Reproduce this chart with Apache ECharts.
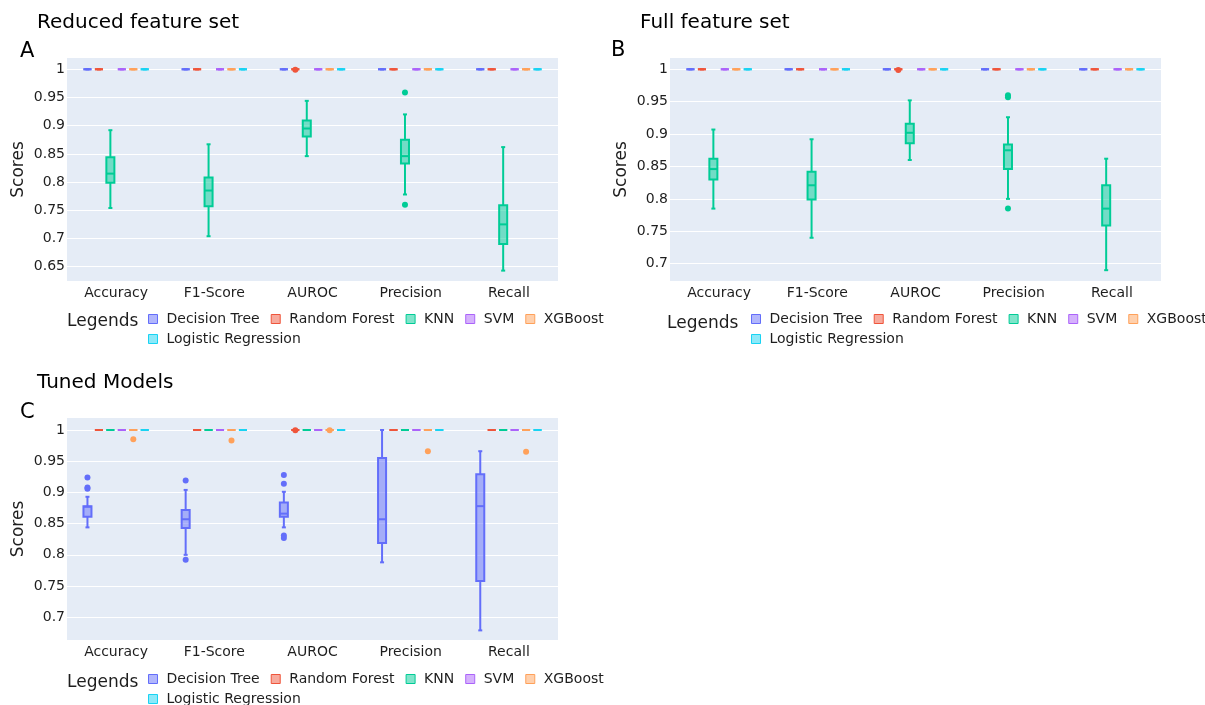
<!DOCTYPE html>
<html>
<head>
<meta charset="utf-8">
<script src="https://cdn.jsdelivr.net/npm/echarts@6/dist/echarts.min.js"></script>
<style>
  html, body { margin: 0; padding: 0; background: #fff; }
  #chart { width: 1205px; height: 705px; }
</style>
</head>
<body>
<div id="chart"></div>
<script>
// ---- Data -------------------------------------------------------------
const metrics = ['Accuracy', 'F1-Score', 'AUROC', 'Precision', 'Recall'];
const models = ['Decision Tree', 'Random Forest', 'KNN', 'SVM', 'XGBoost', 'Logistic Regression'];
const modelColors = ['#636efa', '#EF553B', '#00cc96', '#ab63fa', '#FFA15A', '#19d3f3'];

// Box summaries per metric: [min, q1, median, q3, max]
const perfectScores = [
  [1, 1, 1, 1, 1], [1, 1, 1, 1, 1], [1, 1, 1, 1, 1], [1, 1, 1, 1, 1], [1, 1, 1, 1, 1]
];

// Reduced feature set
const reducedKNN = [
  [0.754, 0.799, 0.815, 0.844, 0.892],
  [0.704, 0.757, 0.785, 0.808, 0.867],
  [0.846, 0.881, 0.895, 0.909, 0.944],
  [0.778, 0.833, 0.846, 0.875, 0.920],
  [0.643, 0.690, 0.725, 0.759, 0.862]
];
const reducedKNNOutliers = [[3, 0.959], [3, 0.760]];
const reducedRFOutliers = [[2, 0.999]];

// Full feature set
const fullKNN = [
  [0.785, 0.830, 0.846, 0.862, 0.907],
  [0.740, 0.799, 0.821, 0.842, 0.892],
  [0.860, 0.886, 0.902, 0.916, 0.952],
  [0.800, 0.846, 0.875, 0.884, 0.926],
  [0.690, 0.759, 0.785, 0.821, 0.862]
];
const fullKNNOutliers = [[3, 0.960], [3, 0.957], [3, 0.785]];
const fullRFOutliers = [[2, 0.999]];

// Tuned models
const tunedDT = [
  [0.844, 0.861, 0.877, 0.878, 0.893],
  [0.800, 0.843, 0.857, 0.872, 0.904],
  [0.844, 0.861, 0.866, 0.884, 0.901],
  [0.788, 0.819, 0.857, 0.955, 1.000],
  [0.679, 0.758, 0.878, 0.929, 0.966]
];
const tunedDTOutliers = [
  [0, 0.924], [0, 0.908], [0, 0.906],
  [1, 0.919], [1, 0.792],
  [2, 0.928], [2, 0.914], [2, 0.831], [2, 0.827]
];
const tunedRFOutliers = [[2, 0.9995]];
const tunedXGBOutliers = [[0, 0.985], [1, 0.983], [2, 0.9995], [3, 0.966], [4, 0.965]];

// Y-axis tick values
const ticksReduced = [0.65, 0.7, 0.75, 0.8, 0.85, 0.9, 0.95, 1];
const ticksFull = [0.7, 0.75, 0.8, 0.85, 0.9, 0.95, 1];
const ticksTuned = [0.7, 0.75, 0.8, 0.85, 0.9, 0.95, 1];

// ---- Panel assembly ---------------------------------------------------
const panels = [
  {
    title: 'Reduced feature set', tag: 'A',
    boxes: [perfectScores, perfectScores, reducedKNN, perfectScores, perfectScores, perfectScores],
    outliers: [[], reducedRFOutliers, reducedKNNOutliers, [], [], []],
    ticks: ticksReduced, yMin: 0.6246, yMax: 1.0200,
    grid: { left: 67, top: 58, width: 491, height: 223 },
    titlePos: { left: 37, top: 13 }, tagPos: { left: 20, top: 41 },
    legendPos: { left: 148, top: 312 }, legendTitlePos: { left: 67, top: 313 }
  },
  {
    title: 'Full feature set', tag: 'B',
    boxes: [perfectScores, perfectScores, fullKNN, perfectScores, perfectScores, perfectScores],
    outliers: [[], fullRFOutliers, fullKNNOutliers, [], [], []],
    ticks: ticksFull, yMin: 0.6733, yMax: 1.0174,
    grid: { left: 670, top: 58, width: 491, height: 223 },
    titlePos: { left: 640, top: 13 }, tagPos: { left: 611, top: 40 },
    legendPos: { left: 751, top: 312 }, legendTitlePos: { left: 667, top: 315 }
  },
  {
    title: 'Tuned Models', tag: 'C',
    boxes: [tunedDT, perfectScores, perfectScores, perfectScores, perfectScores, perfectScores],
    outliers: [tunedDTOutliers, tunedRFOutliers, [], [], tunedXGBOutliers, []],
    ticks: ticksTuned, yMin: 0.6636, yMax: 1.0192,
    grid: { left: 67, top: 418, width: 491, height: 222 },
    titlePos: { left: 37, top: 373 }, tagPos: { left: 20, top: 402 },
    legendPos: { left: 148, top: 672 }, legendTitlePos: { left: 67, top: 674 }
  }
];

const FONT = 'DejaVu Sans';
const TEXT = '#1e1e1e';

function withAlpha(hex, a) {
  const n = parseInt(hex.slice(1), 16);
  return 'rgba(' + (n >> 16 & 255) + ',' + (n >> 8 & 255) + ',' + (n & 255) + ',' + a + ')';
}

// Horizontal offset of a model's box inside its category band
function slotGeometry(api, slot) {
  const band = api.size([1, 0])[0];
  const groupW = band * 0.7;
  const slotW = groupW / models.length;
  return { dx: (slot - (models.length - 1) / 2) * slotW, halfW: slotW * 0.7 / 2 };
}

function boxRenderer(slot) {
  const color = modelColors[slot];
  const fill = withAlpha(color, 0.5);
  return function (params, api) {
    const cat = api.value(0);
    const g = slotGeometry(api, slot);
    const pMin = api.coord([cat, api.value(1)]);
    const pQ1 = api.coord([cat, api.value(2)]);
    const pMed = api.coord([cat, api.value(3)]);
    const pQ3 = api.coord([cat, api.value(4)]);
    const pMax = api.coord([cat, api.value(5)]);
    const x = pMin[0] + g.dx;
    const hw = g.halfW;
    const cw = hw / 2;
    const line = { stroke: color, lineWidth: 2, fill: null };
    return {
      type: 'group',
      children: [
        { type: 'line', shape: { x1: x, y1: pQ3[1], x2: x, y2: pMax[1] }, style: line },
        { type: 'line', shape: { x1: x, y1: pQ1[1], x2: x, y2: pMin[1] }, style: line },
        { type: 'line', shape: { x1: x - cw, y1: pMax[1], x2: x + cw, y2: pMax[1] }, style: line },
        { type: 'line', shape: { x1: x - cw, y1: pMin[1], x2: x + cw, y2: pMin[1] }, style: line },
        { type: 'rect', shape: { x: x - hw, y: pQ3[1], width: hw * 2, height: pQ1[1] - pQ3[1] },
          style: { fill: fill, stroke: color, lineWidth: 2 } },
        { type: 'line', shape: { x1: x - hw, y1: pMed[1], x2: x + hw, y2: pMed[1] }, style: line }
      ]
    };
  };
}

function outlierRenderer(slot) {
  const color = modelColors[slot];
  return function (params, api) {
    const g = slotGeometry(api, slot);
    const p = api.coord([api.value(0), api.value(1)]);
    return { type: 'circle', shape: { cx: p[0] + g.dx, cy: p[1], r: 3 }, style: { fill: color } };
  };
}

const option = {
  animation: false,
  backgroundColor: '#ffffff',
  textStyle: { fontFamily: FONT },
  title: [],
  grid: [],
  xAxis: [],
  yAxis: [],
  legend: [],
  series: []
};

function legendItem(i) {
  return {
    name: models[i], icon: 'rect',
    itemStyle: { color: withAlpha(modelColors[i], 0.5), borderColor: modelColors[i], borderWidth: 1 }
  };
}

panels.forEach(function (pn, pi) {
  option.title.push(
    { text: pn.title, left: pn.titlePos.left, top: pn.titlePos.top, padding: 0,
      textStyle: { fontFamily: FONT, fontSize: 20, fontWeight: 'normal', color: '#000' } },
    { text: pn.tag, left: pn.tagPos.left, top: pn.tagPos.top, padding: 0,
      textStyle: { fontFamily: FONT, fontSize: 21, fontWeight: 'normal', color: '#000' } },
    { text: 'Legends', left: pn.legendTitlePos.left, top: pn.legendTitlePos.top, padding: 0,
      textStyle: { fontFamily: FONT, fontSize: 17, fontWeight: 'normal', color: TEXT } }
  );

  option.grid.push(Object.assign({ show: true, backgroundColor: '#E5ECF6', borderWidth: 0 }, pn.grid));

  option.xAxis.push({
    type: 'category', gridIndex: pi, data: metrics,
    axisLine: { show: false }, axisTick: { show: false }, splitLine: { show: false },
    axisLabel: { fontFamily: FONT, fontSize: 14, color: TEXT, margin: 5 }
  });

  option.yAxis.push({
    type: 'value', gridIndex: pi, min: pn.yMin, max: pn.yMax,
    name: 'Scores', nameLocation: 'middle', nameGap: 40,
    nameTextStyle: { fontFamily: FONT, fontSize: 17, color: TEXT },
    axisLine: { show: false },
    axisTick: { show: false, customValues: pn.ticks },
    axisLabel: {
      customValues: pn.ticks, fontFamily: FONT, fontSize: 14, color: TEXT, margin: 2,
      formatter: function (v) { return String(+(+v).toFixed(2)); }
    },
    splitLine: { show: true, lineStyle: { color: '#ffffff', width: 1 } }
  });

  const legendBase = {
    orient: 'horizontal', padding: 0, itemWidth: 9, itemHeight: 9, itemGap: 11,
    width: 700, selectedMode: false,
    textStyle: { fontFamily: FONT, fontSize: 14, color: TEXT, padding: [0, 0, 0, 4] }
  };
  option.legend.push(
    Object.assign({}, legendBase, { left: pn.legendPos.left, top: pn.legendPos.top,
      data: [0, 1, 2, 3, 4].map(legendItem) }),
    Object.assign({}, legendBase, { left: pn.legendPos.left, top: pn.legendPos.top + 20,
      data: [5].map(legendItem) })
  );

  models.forEach(function (name, mi) {
    option.series.push({
      type: 'custom', name: name, xAxisIndex: pi, yAxisIndex: pi,
      itemStyle: { color: modelColors[mi] },
      renderItem: boxRenderer(mi),
      encode: { x: 0, y: [1, 2, 3, 4, 5] },
      data: pn.boxes[mi].map(function (b, ci) { return [ci].concat(b); })
    });
    if (pn.outliers[mi].length) {
      option.series.push({
        type: 'custom', name: name, xAxisIndex: pi, yAxisIndex: pi,
        itemStyle: { color: modelColors[mi] },
        renderItem: outlierRenderer(mi),
        encode: { x: 0, y: 1 },
        data: pn.outliers[mi]
      });
    }
  });
});

const chart = echarts.init(document.getElementById('chart'), null, { renderer: 'canvas' });
chart.setOption(option);
</script>
</body>
</html>
